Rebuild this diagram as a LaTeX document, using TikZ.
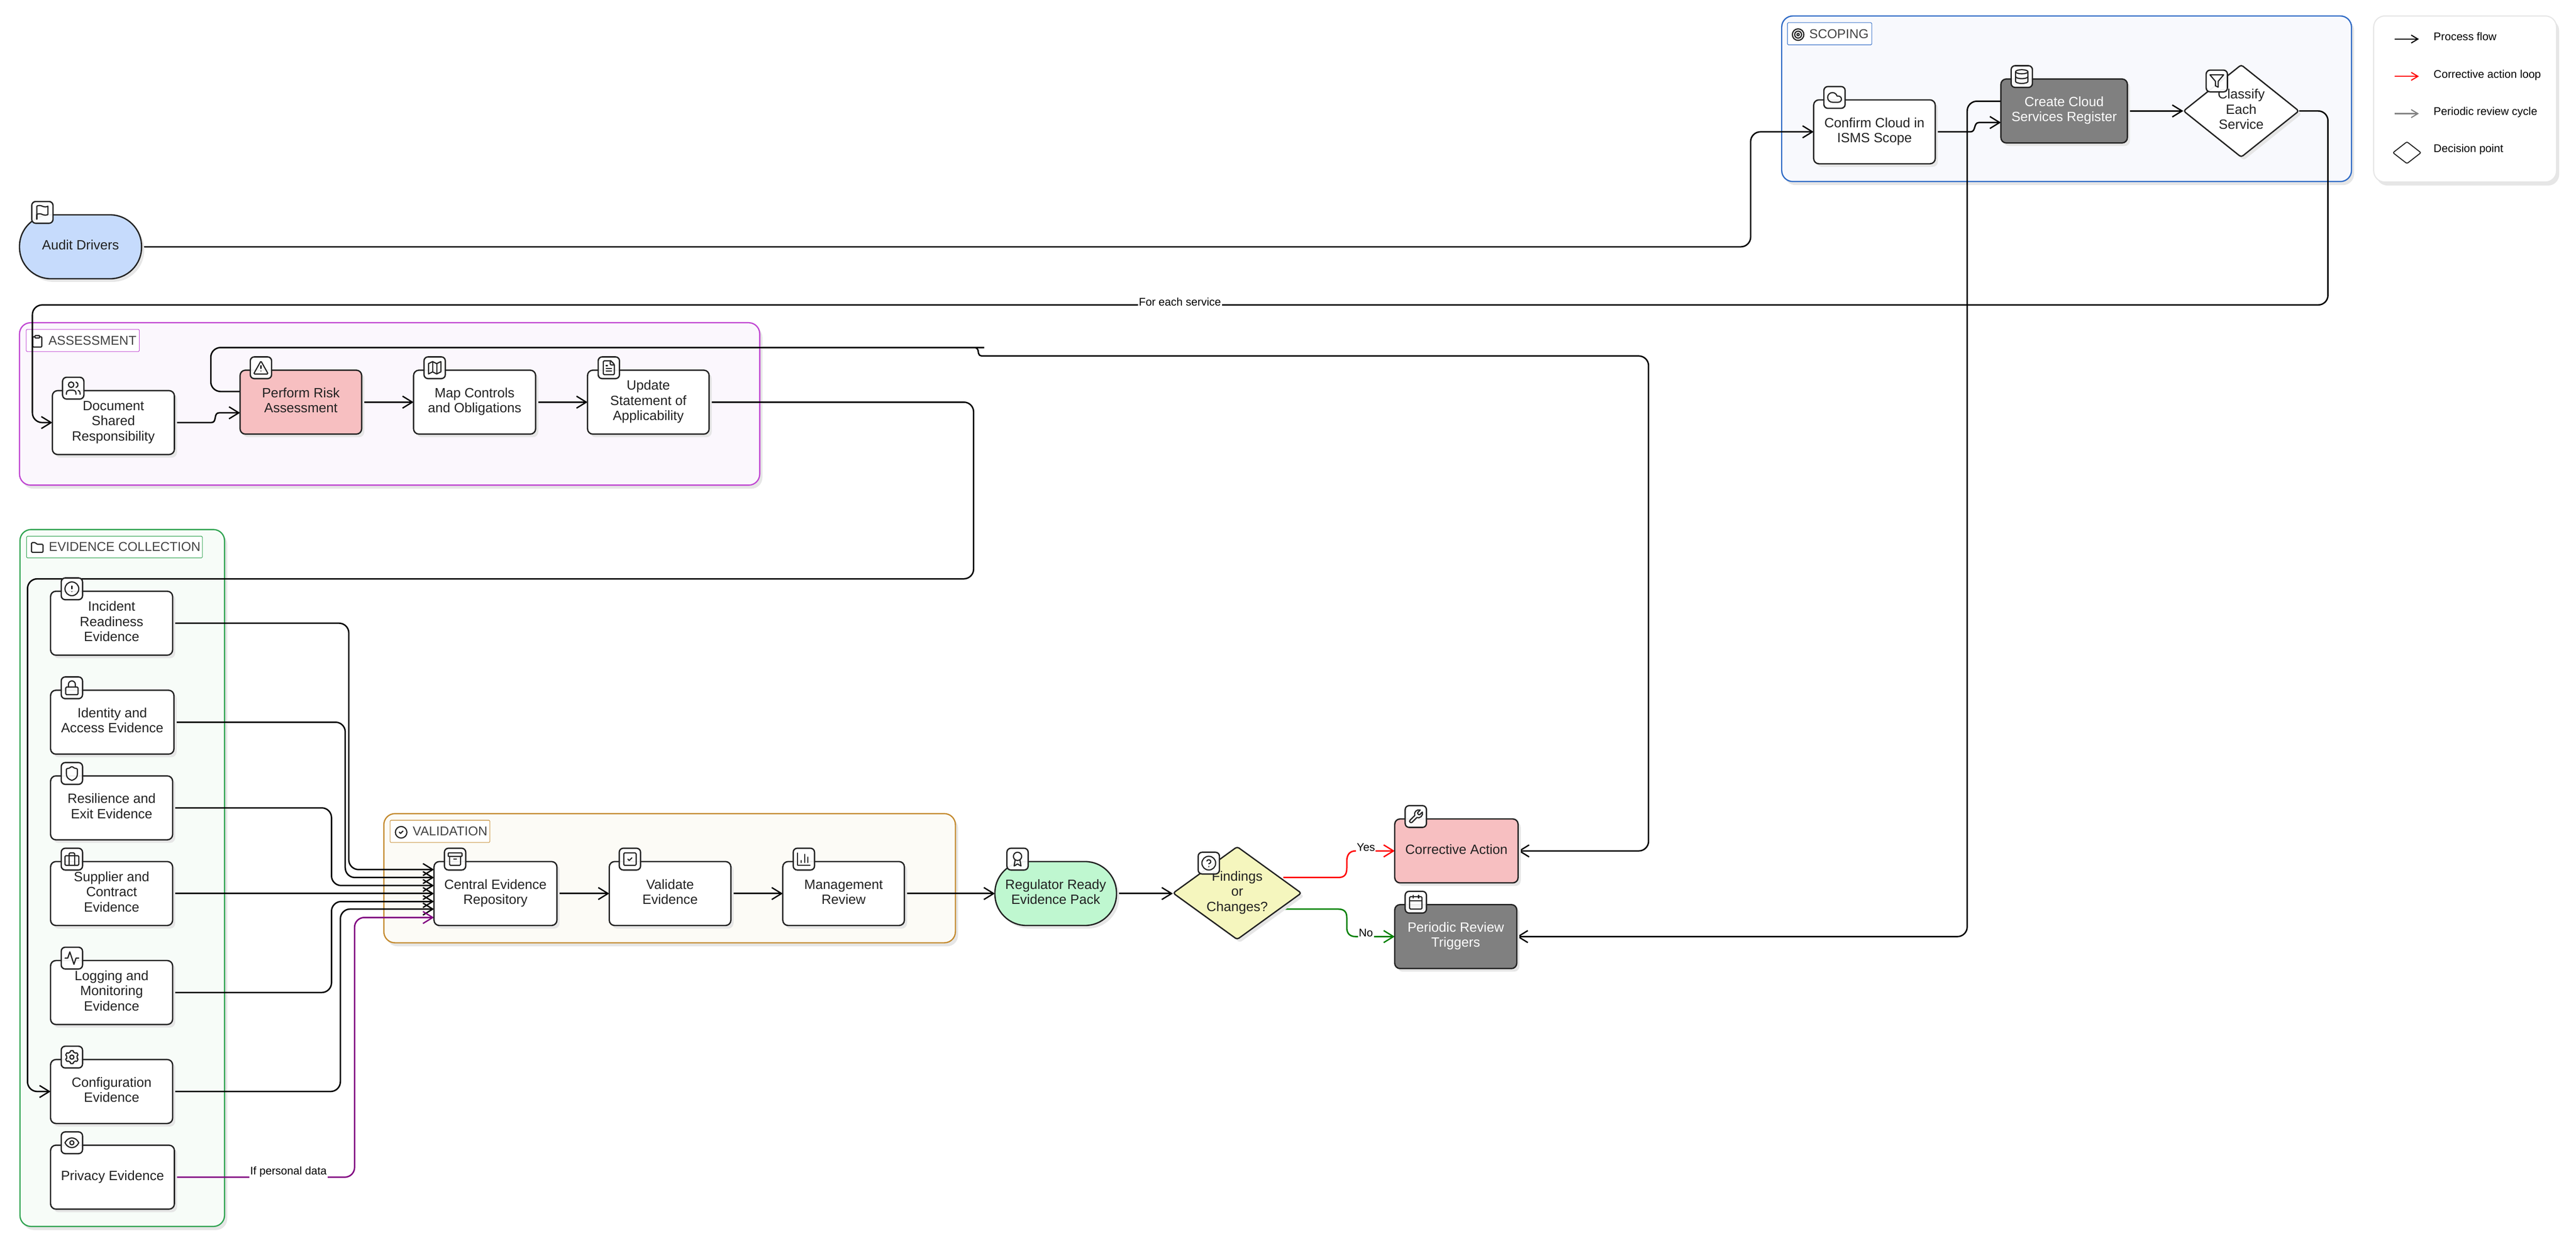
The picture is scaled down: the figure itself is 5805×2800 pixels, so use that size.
\documentclass[tikz,border=0pt]{standalone}
\usepackage{fontspec}
\setmainfont{Liberation Sans}
\usetikzlibrary{arrows.meta,shapes.geometric,shadows,calc,svg.path}
\definecolor{ink}{HTML}{222222}
\definecolor{shade}{HTML}{E6E6E6}
\definecolor{scopeB}{HTML}{2F6BC6}\definecolor{scopeF}{HTML}{F8F9FD}
\definecolor{assessB}{HTML}{C046D2}\definecolor{assessF}{HTML}{FBF7FD}
\definecolor{evidB}{HTML}{2FA350}\definecolor{evidF}{HTML}{F7FCF8}
\definecolor{validB}{HTML}{C48A2E}\definecolor{validF}{HTML}{FCFBF6}
\definecolor{blueF}{HTML}{C6DBFC}\definecolor{redF}{HTML}{F7BFC1}
\definecolor{grayF}{HTML}{808080}\definecolor{greenF}{HTML}{BFF7D0}
\definecolor{yellowF}{HTML}{F5F6BE}\definecolor{purp}{HTML}{800080}
\definecolor{grn}{HTML}{008000}
\newcommand\nt[1]{\begin{tabular}{@{}c@{}}#1\end{tabular}}
\tikzset{
  x=1pt,y=1pt,
  base/.style={draw=ink,line width=3pt,fill=white,inner sep=0pt,text=ink,
    font=\fontsize{30.3}{34}\selectfont,
    general shadow={fill=shade,shadow xshift=6pt,shadow yshift=-7pt}},
  proc/.style={base,rectangle,rounded corners=12pt,minimum width=275pt,minimum height=144pt},
  stad/.style={base,rectangle,rounded corners=71pt,minimum width=275pt,minimum height=144pt},
  dec/.style={base,diamond,rounded corners=5pt},
  dark/.style={fill=grayF,text=white},
  grp/.style={rectangle,rounded corners=25pt,line width=2.8pt,inner sep=0pt,
    general shadow={fill=shade,shadow xshift=6pt,shadow yshift=-8pt}},
  grplab/.style={rectangle,rounded corners=2pt,fill=white,line width=1.2pt,inner sep=0pt},
  grptxt/.style={anchor=west,inner sep=0pt,text=ink!85,font=\fontsize{29}{30}\selectfont,text height=20pt,text depth=0pt},
  tagbox/.style={rectangle,rounded corners=9pt,draw=ink,line width=3pt,fill=white,fill opacity=.93,draw opacity=1,minimum width=48pt,minimum height=49pt,inner sep=0pt},
  icon/.style={draw=ink,line width=2.6pt,line cap=round,line join=round,fill=none},
  flow/.style={draw=black,line width=3.2pt,rounded corners=22pt,-{Straight Barb[length=22pt,width=27pt,line width=3pt]}},
  elab/.style={fill=white,inner sep=2pt,text=black,font=\fontsize{25}{27}\selectfont,text height=18pt,text depth=5pt},
  legtxt/.style={anchor=west,inner sep=0pt,text=black,font=\fontsize{25}{27}\selectfont,text height=18pt,text depth=5pt},
  legarrow/.style={line width=2.5pt,-{Straight Barb[length=15pt,width=18pt,line width=2.5pt]}},
}
\newcommand\drawicon[3]{\begin{scope}[shift={(#1)},xscale=#2,yscale=-#2,shift={(-12,-12)}]#3\end{scope}}
\newcommand\tagged[4]{\node[tagbox] (t#1) at ([shift={(#2,#3)}]#1.center) {};\drawicon{t#1.center}{1.55}{#4}}
% lucide-style icons
\newcommand\iflag{\draw[icon] svg{M4 15s1-1 4-1 5 2 8 2 4-1 4-1V3s-1 1-4 1-5-2-8-2-4 1-4 1z}; \draw[icon] (4,22)--(4,15);}
\newcommand\icloud{\draw[icon] svg{M17.5 19H9a7 7 0 1 1 6.71-9h1.79a4.5 4.5 0 1 1 0 9Z};}
\newcommand\idb{\draw[icon] (12,5) ellipse [x radius=9,y radius=3]; \draw[icon] svg{M3 5V19A9 3 0 0 0 21 19V5}; \draw[icon] svg{M3 12A9 3 0 0 0 21 12};}
\newcommand\ifilter{\draw[icon] (22,3)--(2,3)--(10,12.46)--(10,19)--(14,21)--(14,12.46)--cycle;}
\newcommand\itarget{\draw[icon] (12,12) circle[radius=10] (12,12) circle[radius=6] (12,12) circle[radius=2];}
\newcommand\iclip{\draw[icon,rounded corners=1] (8,2) rectangle (16,6); \draw[icon] svg{M16 4h2a2 2 0 0 1 2 2v14a2 2 0 0 1-2 2H6a2 2 0 0 1-2-2V6a2 2 0 0 1 2-2h2};}
\newcommand\iusers{\draw[icon] svg{M16 21v-2a4 4 0 0 0-4-4H6a4 4 0 0 0-4 4v2}; \draw[icon] (9,7) circle[radius=4]; \draw[icon] svg{M22 21v-2a4 4 0 0 0-3-3.87}; \draw[icon] svg{M16 3.13a4 4 0 0 1 0 7.75};}
\newcommand\ialert{\draw[icon,rounded corners=2] (12,2.2)--(22.6,21)--(1.4,21)--cycle; \draw[icon] (12,9)--(12,13) (12,17)--(12.01,17);}
\newcommand\imap{\draw[icon] (9,3)--(3,6)--(3,21)--(9,18)--(15,21)--(21,18)--(21,3)--(15,6)--cycle; \draw[icon] (9,3)--(9,18) (15,6)--(15,21);}
\newcommand\ifile{\draw[icon,rounded corners=2] (15,2)--(4,2)--(4,22)--(20,22)--(20,7)[sharp corners]--cycle; \draw[icon,rounded corners=2] (14,2)--(14,8)--(20,8); \draw[icon] (10,9)--(8,9) (16,13)--(8,13) (16,17)--(8,17);}
\newcommand\ifolder{\draw[icon,rounded corners=2] (22,6)--(22,20)--(2,20)--(2,3)--(9,3)--(11,6)--cycle;}
\newcommand\iacirc{\draw[icon] (12,12) circle[radius=10]; \draw[icon] (12,8)--(12,12) (12,16)--(12.01,16);}
\newcommand\ilock{\draw[icon,rounded corners=2] (3,11) rectangle (21,22); \draw[icon] (7,11)--(7,7) arc[start angle=180,end angle=360,radius=5] -- (17,11);}
\newcommand\ishield{\draw[icon] (20,13) .. controls (20,18) and (16.5,20.5) .. (12.34,21.95) .. controls (12,22.1) and (11.9,22) .. (11.67,21.94) .. controls (7.5,20.5) and (4,18) .. (4,13) -- (4,6) .. controls (4,5.4) and (4.4,5) .. (5,5) .. controls (7,5) and (9.5,3.8) .. (11.24,2.28) .. controls (11.7,1.9) and (12.3,1.9) .. (12.76,2.28) .. controls (14.51,3.81) and (17,5) .. (19,5) .. controls (19.6,5) and (20,5.4) .. (20,6) -- cycle;}
\newcommand\icase{\draw[icon,rounded corners=2] (2,7) rectangle (22,21); \draw[icon,rounded corners=2] (16,21)--(16,3)--(8,3)--(8,21);}
\newcommand\iactiv{\draw[icon] (22,12)--(18,12)--(15,21)--(9,3)--(6,12)--(2,12);}
\newcommand\igear{\draw[icon] (12,12) circle[radius=3];
  \foreach \a in {0,60,...,300}{\draw[icon,rotate around={\a:(12,12)},rounded corners=1.2] (9.8,4.6)--(9.8,2.6)--(14.2,2.6)--(14.2,4.6);}
  \foreach \a in {0,60,...,300}{\draw[icon,rotate around={\a:(12,12)}] (14.2,4.6) .. controls (15.2,5) and (16,5.3) .. (17,6.1);}
}
\newcommand\ieye{\draw[icon] (2,12) .. controls (2,12) and (5,5) .. (12,5) .. controls (19,5) and (22,12) .. (22,12) .. controls (22,12) and (19,19) .. (12,19) .. controls (5,19) and (2,12) .. (2,12) -- cycle; \draw[icon] (12,12) circle[radius=3];}
\newcommand\icheckc{\draw[icon] (12,12) circle[radius=10]; \draw[icon] (9,12)--(11,14)--(15,10);}
\newcommand\iarchive{\draw[icon,rounded corners=1] (2,3) rectangle (22,8); \draw[icon,rounded corners=2] (4,8)--(4,21)--(20,21)--(20,8); \draw[icon] (10,12)--(14,12);}
\newcommand\icheckb{\draw[icon,rounded corners=2] (3,3) rectangle (21,21); \draw[icon] (9,12)--(11,14)--(15,10);}
\newcommand\ichart{\draw[icon] (3,3)--(3,21)--(21,21); \draw[icon] (18,17)--(18,9) (13,17)--(13,5) (8,17)--(8,14);}
\newcommand\iaward{\draw[icon] (12,8) circle[radius=6]; \draw[icon] (15.477,12.89)--(17,22)--(12,19)--(7,22)--(8.523,12.89);}
\newcommand\ihelp{\draw[icon] (12,12) circle[radius=10]; \draw[icon] (9.09,9) .. controls (9.5,7.6) and (11,6.8) .. (12.5,7.1) .. controls (14,7.4) and (14.92,8.6) .. (14.92,10) .. controls (14.92,12) and (11.92,13) .. (11.92,13); \draw[icon] (12,17)--(12.01,17);}
\newcommand\iwrench{\draw[icon] (14.7,6.3) -- (14.7,7.7) -- (16.3,9.3) -- (17.7,9.3) -- (21.47,5.53) .. controls (22.2,8) and (21.5,10.5) .. (19.7,12.2) .. controls (18,13.9) and (15.6,14.2) .. (13.53,13.47) -- (6.62,20.38) .. controls (5.8,21.2) and (4.4,21.2) .. (3.62,20.38) .. controls (2.8,19.6) and (2.8,18.2) .. (3.62,17.38) -- (10.53,10.47) .. controls (9.8,8.4) and (10.1,6) .. (11.8,4.3) .. controls (13.5,2.5) and (16,1.8) .. (18.47,2.53) -- cycle;}
\newcommand\ical{\draw[icon,rounded corners=2] (3,4) rectangle (21,22); \draw[icon] (16,2)--(16,6) (8,2)--(8,6) (3,10)--(21,10);}
\begin{document}
\begin{tikzpicture}
\useasboundingbox (0,0) rectangle (5805,-2800);
% groups
\node[grp,draw=scopeB,fill=scopeF,minimum width=1284pt,minimum height=373pt] (gScope) at (4657,-222.5) {};
\node[grp,draw=assessB,fill=assessF,minimum width=1668pt,minimum height=366pt] (gAssess) at (878,-910) {};
\node[grp,draw=evidB,fill=evidF,minimum width=461pt,minimum height=1570pt] (gEvid) at (275.5,-1978) {};
\node[grp,draw=validB,fill=validF,minimum width=1288pt,minimum height=291pt] (gValid) at (1509,-1978.5) {};
\node[grp,draw=shade,fill=white,minimum width=412pt,minimum height=374pt,line width=2.5pt] (gLegend) at (5555,-223) {};
% group labels
\node[grplab,draw=scopeB,minimum width=190pt,minimum height=50pt] (lScope) at (4123,-76) {};
\node[grptxt] (tScope) at (4077,-76) {SCOPING};
\drawicon{4052,-78}{1.3}{\itarget}
\node[grplab,draw=assessB,minimum width=255pt,minimum height=50pt] (lAssess) at (186.5,-767) {};
\node[grptxt] (tAssess) at (109,-767) {ASSESSMENT};
\drawicon{84,-769}{1.3}{\iclip}
\node[grplab,draw=evidB,minimum width=396pt,minimum height=49pt] (lEvid) at (258,-1232.5) {};
\node[grptxt] (tEvid) at (110,-1232) {EVIDENCE COLLECTION};
\drawicon{84,-1234}{1.3}{\ifolder}
\node[grplab,draw=validB,minimum width=225pt,minimum height=50pt] (lValid) at (991.5,-1873) {};
\node[grptxt] (tValid) at (930,-1873) {VALIDATION};
\drawicon{904,-1875}{1.3}{\icheckc}
% connector ports, at the nodes' rims
\coordinate (pAuditE) at (319,-556);
\coordinate (pConfW) at (4087,-297);
\coordinate (pConfE) at (4361,-297);
\coordinate (pCreaW1) at (4509,-276);
\coordinate (pCreaW2) at (4509,-228);
\coordinate (pCreaE) at (4794,-250);
\coordinate (pClasW) at (4920,-250);
\coordinate (pClasE) at (5181,-250);
\coordinate (pDocW) at (118,-952);
\coordinate (pDocE) at (393,-952);
\coordinate (pPerfW1) at (541,-930);
\coordinate (pPerfW2) at (541,-882);
\coordinate (pPerfE) at (815,-906);
\coordinate (pMapW) at (932,-906);
\coordinate (pMapE) at (1207,-906);
\coordinate (pUpdW) at (1324,-906);
\coordinate (pUpdE) at (1598,-906);
\coordinate (pCfgW) at (114,-2459);
\coordinate (pCfgE) at (389,-2459);
\coordinate (pIncE) at (389,-1404);
\coordinate (pIdE) at (392,-1627);
\coordinate (pResE) at (389,-1820);
\coordinate (pSupE) at (389,-2013);
\coordinate (pLogE) at (389,-2236);
\coordinate (pPrivE) at (393,-2652);
\coordinate (pCorE) at (3421,-1917);
\coordinate (pCorW) at (3143,-1917);
\coordinate (pPerE) at (3418,-2110);
\coordinate (pPerW) at (3143,-2110);
\coordinate (pCenW1) at (978,-1959);
\coordinate (pCenW2) at (978,-1977);
\coordinate (pCenW3) at (978,-1995);
\coordinate (pCenW4) at (978,-2013);
\coordinate (pCenW5) at (978,-2031);
\coordinate (pCenW6) at (978,-2048);
\coordinate (pCenW7) at (978,-2067);
\coordinate (pCenE) at (1255,-2013);
\coordinate (pValW) at (1373,-2013);
\coordinate (pValE) at (1647,-2013);
\coordinate (pMgtW) at (1764,-2013);
\coordinate (pMgtE) at (2038,-2013);
\coordinate (pRegW) at (2242,-2013);
\coordinate (pRegE) at (2516,-2013);
\coordinate (pFinW) at (2643,-2013);
\coordinate (pFinY) at (2892,-1977);
\coordinate (pFinN) at (2892,-2048);
% connectors
\draw[flow] (pAuditE) -- (3945,-556) -- (3945,-297) -- (pConfW);
\draw[flow,rounded corners=0pt] (pConfE) -- (4440,-297) .. controls (4454,-297) and (4446,-276) .. (4460,-276) -- (pCreaW1);
\draw[flow] (pCreaW2) -- (4433,-228) -- (4433,-2110) -- (pPerE);
\draw[flow] (pCreaE) -- (pClasW);
\draw[flow] (pClasE) -- (5246,-250) -- (5246,-687) -- (73,-687) -- (73,-952) -- (pDocW);
\draw[flow,rounded corners=0pt] (pDocE) -- (476,-952) .. controls (490,-952) and (480,-930) .. (494,-930) -- (pPerfW1);
\draw[flow] (pPerfW2) -- (475,-882) -- (475,-783) -- (2196,-783) [rounded corners=6pt] -- (2203,-783) -- (2206,-802) [rounded corners=22pt] -- (3715,-802) -- (3715,-1917) -- (pCorE);
\draw[flow] (pPerfE) -- (pMapW);
\draw[flow] (pMapE) -- (pUpdW);
\draw[flow] (pUpdE) -- (2194,-906) -- (2194,-1304) -- (62,-1304) -- (62,-2459) -- (pCfgW);
\draw[flow] (pIncE) -- (786,-1404) -- (786,-1959) -- (pCenW1);
\draw[flow] (pIdE) -- (778,-1627) -- (778,-1977) -- (pCenW2);
\draw[flow] (pResE) -- (747,-1820) -- (747,-1995) -- (pCenW3);
\draw[flow] (pSupE) -- (pCenW4);
\draw[flow] (pLogE) -- (747,-2236) -- (747,-2031) -- (pCenW5);
\draw[flow] (pCfgE) -- (767,-2459) -- (767,-2048) -- (pCenW6);
\draw[flow,draw=purp] (pPrivE) -- (799,-2652) -- (799,-2067) -- (pCenW7);
\draw[flow] (pCenE) -- (pValW);
\draw[flow] (pValE) -- (pMgtW);
\draw[flow] (pMgtE) -- (pRegW);
\draw[flow] (pRegE) -- (pFinW);
\draw[flow,rounded corners=0pt,draw=red] (pFinY) -- (3015,-1977) .. controls (3030,-1977) and (3035,-1970) .. (3035,-1955) -- (3035,-1940) .. controls (3035,-1925) and (3042,-1917) .. (3055,-1917) -- (pCorW);
\draw[flow,rounded corners=0pt,draw=grn] (pFinN) -- (3015,-2048) .. controls (3030,-2048) and (3035,-2055) .. (3035,-2068) -- (3035,-2090) .. controls (3035,-2103) and (3042,-2110) .. (3055,-2110) -- (pPerW);
% edge labels
\node[elab] (eEach) at (2659,-682) {For each service};
\node[elab] (ePers) at (650,-2640) {If personal data};
\node[elab] (eYes) at (3078,-1911) {Yes};
\node[elab] (eNo) at (3078,-2104) {No};
% nodes
\node[stad,fill=blueF] (audit) at (181.5,-556) {\nt{Audit Drivers}};
\node[proc,minimum width=274pt] (confirm) at (4224,-297) {\nt{Confirm Cloud in\\ISMS Scope}};
\node[proc,dark,minimum width=285pt] (create) at (4651.5,-250) {\nt{Create Cloud\\Services Register}};
\node[dec,minimum width=261pt,minimum height=209pt,shape aspect=1.25] (classify) at (5050.5,-250) {\nt{Classify\\Each\\Service}};
\node[proc] (doc) at (255.5,-952) {\nt{Document\\Shared\\Responsibility}};
\node[proc,fill=redF,minimum width=274pt] (perform) at (678,-906) {\nt{Perform Risk\\Assessment}};
\node[proc] (map) at (1069.5,-906) {\nt{Map Controls\\and Obligations}};
\node[proc,minimum width=274pt] (update) at (1461,-906) {\nt{Update\\Statement of\\Applicability}};
\node[proc] (inc) at (251.5,-1404) {\nt{Incident\\Readiness\\Evidence}};
\node[proc,minimum width=278pt] (ident) at (253,-1627) {\nt{Identity and\\Access Evidence}};
\node[proc] (resil) at (251.5,-1820) {\nt{Resilience and\\Exit Evidence}};
\node[proc] (supp) at (251.5,-2013) {\nt{Supplier and\\Contract\\Evidence}};
\node[proc] (logg) at (251.5,-2236) {\nt{Logging and\\Monitoring\\Evidence}};
\node[proc] (config) at (251.5,-2459) {\nt{Configuration\\Evidence}};
\node[proc,minimum width=279pt] (priv) at (253.5,-2652) {\nt{Privacy Evidence}};
\node[proc,minimum width=277pt] (central) at (1116.5,-2013) {\nt{Central Evidence\\Repository}};
\node[proc,minimum width=274pt] (valid) at (1510,-2013) {\nt{Validate\\Evidence}};
\node[proc,minimum width=274pt] (mgmt) at (1901,-2013) {\nt{Management\\Review}};
\node[stad,fill=greenF,minimum width=274pt] (reg) at (2379,-2013) {\nt{Regulator Ready\\Evidence Pack}};
\node[dec,fill=yellowF,minimum width=290pt,minimum height=210pt,shape aspect=1.38] (find) at (2788,-2012) {\nt{Findings\\or\\Changes?}};
\node[proc,fill=redF,minimum width=278pt] (corr) at (3282,-1917) {\nt{Corrective Action}};
\node[proc,dark] (peri) at (3280.5,-2110) {\nt{Periodic Review\\Triggers}};
% icon tags
\tagged{audit}{-86}{77.5}{\iflag}
\tagged{confirm}{-90}{77.5}{\icloud}
\tagged{create}{-95.5}{77.5}{\idb}
\tagged{classify}{-55}{67.5}{\ifilter}
\tagged{doc}{-90.5}{77.5}{\iusers}
\tagged{perform}{-90}{77.5}{\ialert}
\tagged{map}{-90}{77.5}{\imap}
\tagged{update}{-89}{77.5}{\ifile}
\tagged{inc}{-89.5}{77.5}{\iacirc}
\tagged{ident}{-91}{77.5}{\ilock}
\tagged{resil}{-89.5}{77.5}{\ishield}
\tagged{supp}{-89.5}{77.5}{\icase}
\tagged{logg}{-89.5}{77.5}{\iactiv}
\tagged{config}{-89.5}{77.5}{\igear}
\tagged{priv}{-91.5}{77.5}{\ieye}
\tagged{central}{-91}{77.5}{\iarchive}
\tagged{valid}{-90.5}{77.5}{\icheckb}
\tagged{mgmt}{-89.5}{77.5}{\ichart}
\tagged{reg}{-86}{77.5}{\iaward}
\tagged{find}{-64}{67.5}{\ihelp}
\tagged{corr}{-91.5}{77.5}{\iwrench}
\tagged{peri}{-90}{77.5}{\ical}
% legend
\coordinate (a1) at (5396,-88);\coordinate (b1) at (5451,-88);
\coordinate (a2) at (5396,-172);\coordinate (b2) at (5451,-172);
\coordinate (a3) at (5396,-256);\coordinate (b3) at (5451,-256);
\draw[legarrow,draw=black] (a1) -- (b1);
\draw[legarrow,draw=red] (a2) -- (b2);
\draw[legarrow,draw=grayF] (a3) -- (b3);
\node[diamond,draw=ink,line width=2.2pt,rounded corners=3pt,fill=white,inner sep=0pt,minimum width=64pt,minimum height=50pt] (legdec) at (5424,-344) {};
\node[legtxt] (leg1) at (5484,-85) {Process flow};
\node[legtxt] (leg2) at (5484,-169) {Corrective action loop};
\node[legtxt] (leg3) at (5484,-253) {Periodic review cycle};
\node[legtxt] (leg4) at (5484,-337) {Decision point};
\end{tikzpicture}
\end{document}
